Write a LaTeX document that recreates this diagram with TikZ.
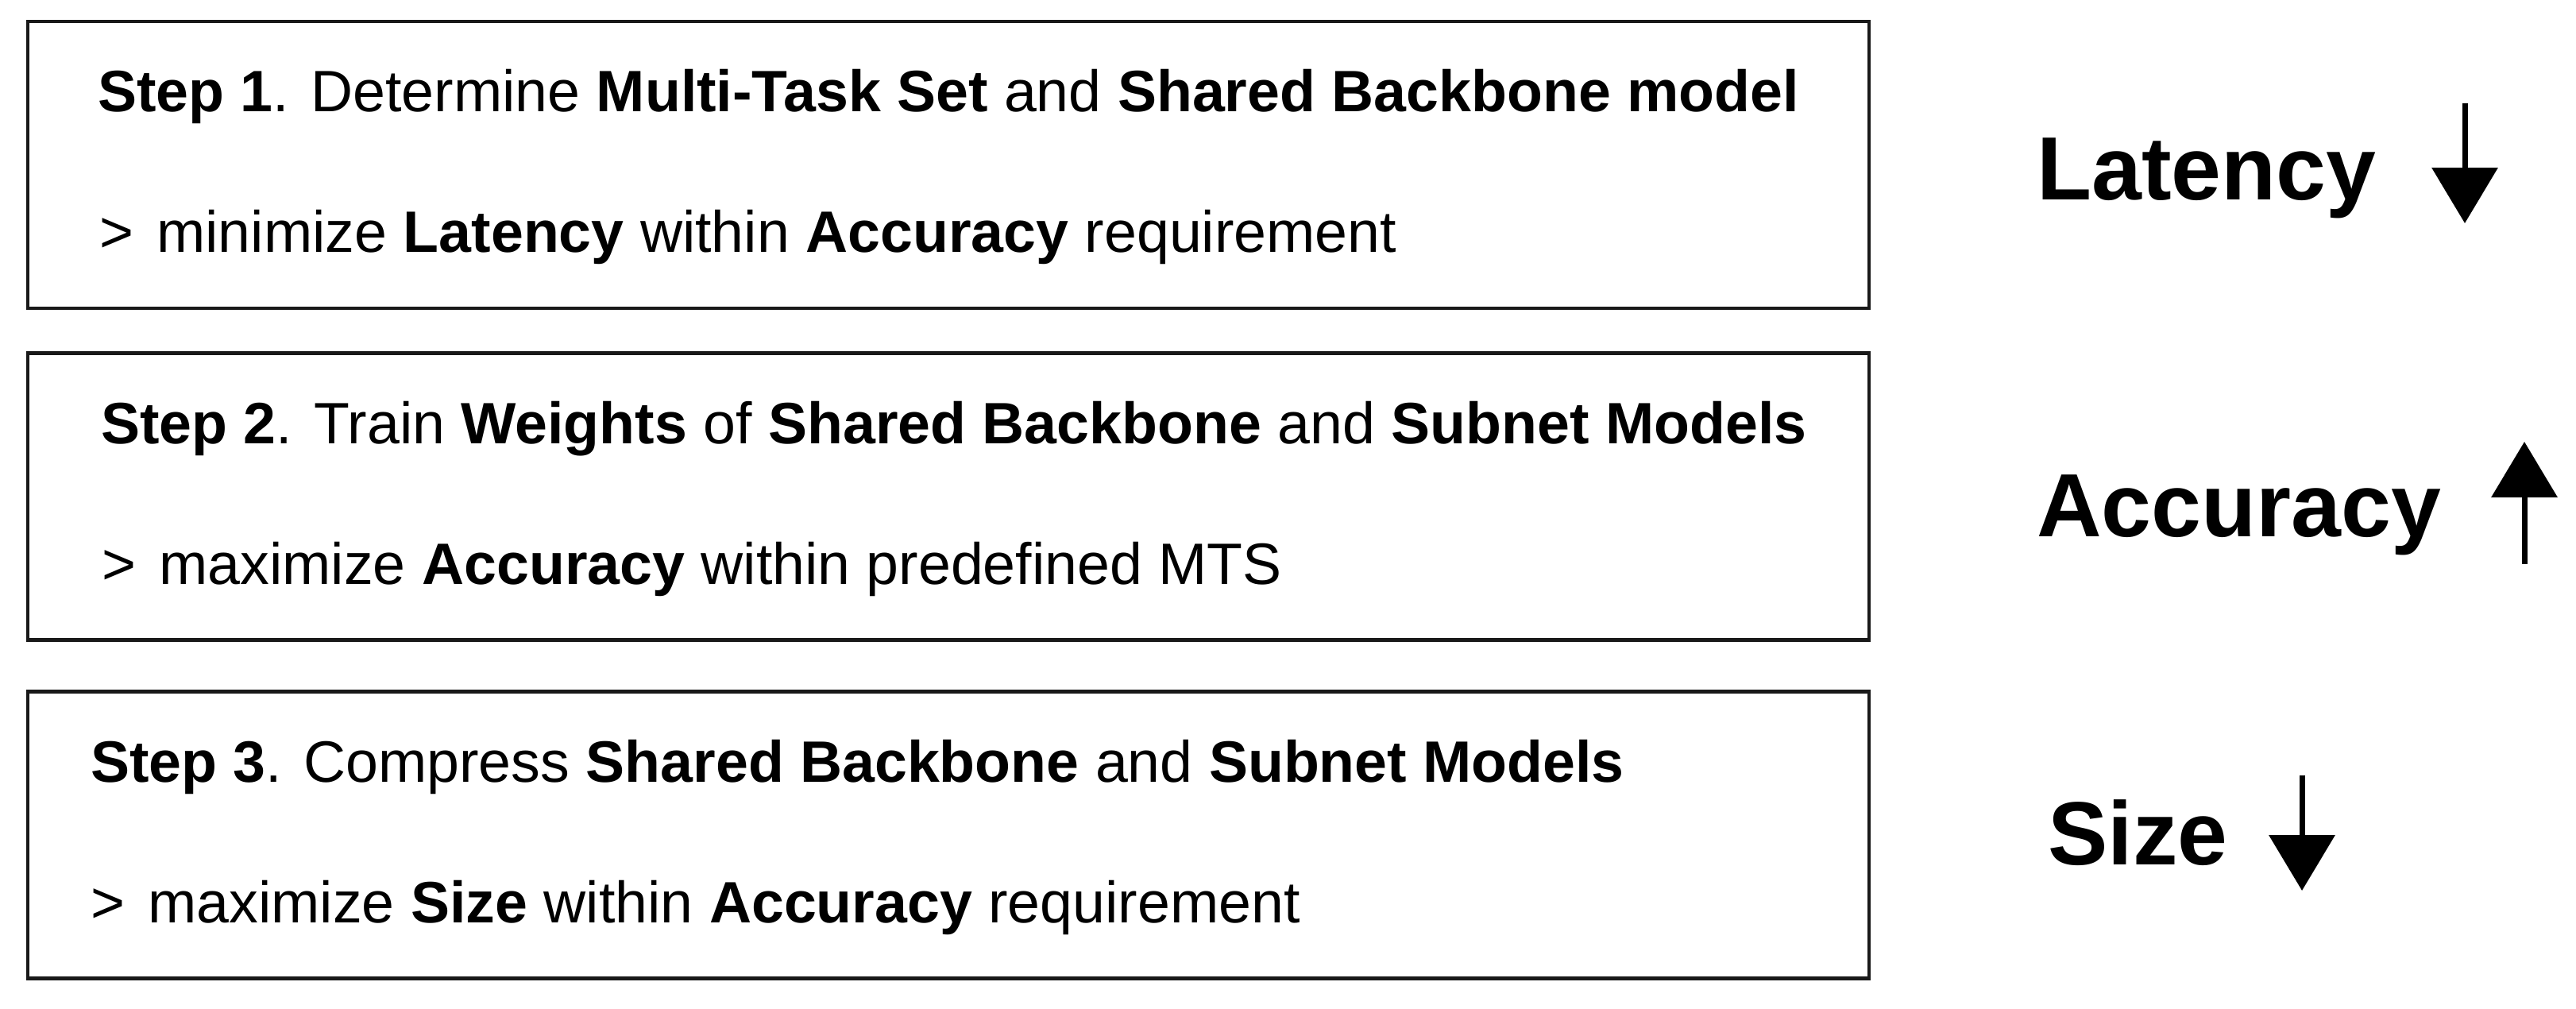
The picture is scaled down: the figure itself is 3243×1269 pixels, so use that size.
\documentclass[tikz,border=0pt]{standalone}
\usepackage{fontspec}
\setmainfont{Liberation Sans}
\usepackage{tikz}
\usetikzlibrary{arrows.meta}

\tikzset{
  stepbox/.style={draw=black!90, line width=4.5pt, minimum width=2318pt, minimum height=361pt, inner sep=0pt},
  steptext/.style={anchor=base west, inner sep=0pt, font=\fontsize{73.5}{88}\selectfont},
  goal/.style={anchor=base west, inner sep=0pt, font=\fontsize{113}{136}\selectfont\bfseries},
  trend/.style={line width=7pt, -{Triangle[width=82pt,length=70pt]}}
}

\begin{document}
\begin{tikzpicture}[x=1pt, y=-1pt]
    \useasboundingbox (0,0) rectangle (3243,1269);

    % the three steps
    \node[stepbox] (box1) at (1194,207.5) {};
    \node[stepbox] (box2) at (1194,625) {};
    \node[stepbox] (box3) at (1194,1051) {};

    \node[steptext] (s1a) at (123,140) {\textbf{Step 1}. Determine \textbf{Multi-Task Set} and \textbf{Shared Backbone model}};
    \node[steptext] (s1b) at (125,317) {>\hspace{0.4em}minimize \textbf{Latency} within \textbf{Accuracy} requirement};

    \node[steptext] (s2a) at (127,558) {\textbf{Step 2}. Train \textbf{Weights} of \textbf{Shared Backbone} and \textbf{Subnet Models}};
    \node[steptext] (s2b) at (128,735) {>\hspace{0.4em}maximize \textbf{Accuracy} within predefined MTS};

    \node[steptext] (s3a) at (114,984) {\textbf{Step 3}. Compress \textbf{Shared Backbone} and \textbf{Subnet Models}};
    \node[steptext] (s3b) at (114,1161) {>\hspace{0.4em}maximize \textbf{Size} within \textbf{Accuracy} requirement};

    % goals on the right
    \node[goal] (lat) at (2564,251) {Latency};
    \node[goal] (acc) at (2564,675) {Accuracy};
    \node[goal] (size) at (2578,1088) {Size};

    \coordinate (latTop) at (3103,130);
    \coordinate (latTip) at (3103,281);
    \coordinate (accLow) at (3178,710);
    \coordinate (accTip) at (3178,556);
    \coordinate (sizeTop) at (2898,976);
    \coordinate (sizeTip) at (2898,1121);

    \draw[trend] (latTop) -- (latTip);
    \draw[trend] (accLow) -- (accTip);
    \draw[trend] (sizeTop) -- (sizeTip);
\end{tikzpicture}
\end{document}
